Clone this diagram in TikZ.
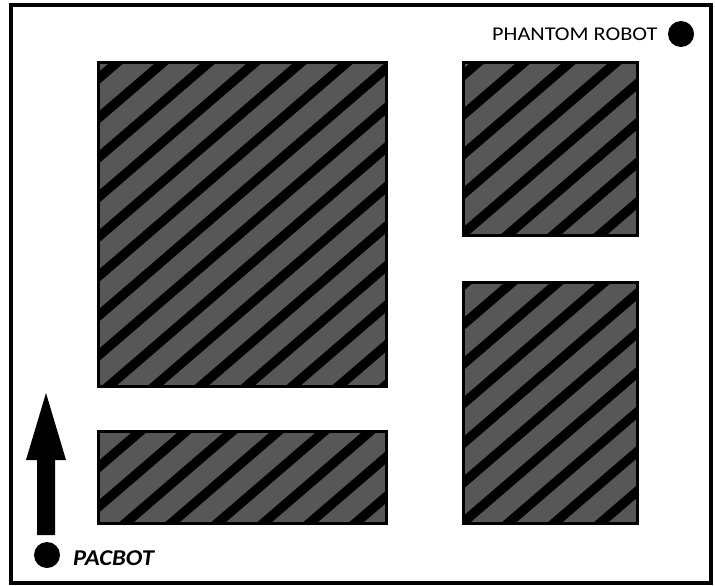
\documentclass[tikz,border=0pt]{standalone}
\usepackage{fontspec}
\usepackage{graphicx}
\usetikzlibrary{calc}
\setmainfont{Carlito}
\definecolor{obstgray}{RGB}{87,87,87}
\tikzset{
  obstacle/.style={fill=obstgray, inner sep=0pt, outer sep=0pt, rectangle},
  stripe/.style={black, line width=9.5pt},
  obstborder/.style={black, line width=3pt},
  robotdot/.style={circle, fill=black, inner sep=0pt, minimum size=26pt},
  lbl/.style={inner sep=0pt, text=black}
}
\newcommand{\hatchrect}[2]{%
  \begin{scope}
    \clip (#1.north west) rectangle (#1.south east);
    \foreach \k in {-1,...,16}{
      \draw[stripe] ($(#1.north west)+(#2+46*\k+25,-21.5)$) -- ++(-450,387);
    }
  \end{scope}
  \draw[obstborder] (#1.north west) rectangle (#1.south east);
}
\begin{document}
\begin{tikzpicture}[x=1pt,y=-1pt]
\useasboundingbox (0,0) rectangle (715,586);
\fill[white] (0,0) rectangle (715,586);
\draw[line width=4pt] (10.5,5.5) rectangle (711,583);
% obstacles
\node[obstacle, minimum width=288pt, minimum height=324pt] (big) at (242.5,224.5) {};
\node[obstacle, minimum width=174pt, minimum height=172.5pt] (tr) at (550.5,148.75) {};
\node[obstacle, minimum width=174pt, minimum height=241pt] (br) at (550.5,403) {};
\node[obstacle, minimum width=288pt, minimum height=92pt] (bl) at (242.5,477.5) {};
\hatchrect{big}{18.5}
\hatchrect{tr}{14.5}
\hatchrect{br}{2.5}
\hatchrect{bl}{41.5}
% phantom robot
\node[robotdot] (phantom) at (681,34) {};
\node[lbl, anchor=west] (phantomlbl) at (492,34.5) {\scalebox{1.14}[1]{\fontsize{19.5pt}{22pt}\selectfont PHANTOM ROBOT}};
% pacbot
\node[robotdot] (pacbot) at (47,555) {};
\node[lbl, anchor=west] (pacbotlbl) at (73,558) {\scalebox{1.09}[1]{\fontsize{22.6pt}{26pt}\selectfont\bfseries\itshape PACBOT}};
% arrow
\fill[black] (37,535) -- (55,535) -- (55,460) -- (66,460) -- (46,393) -- (26,460) -- (37,460) -- cycle;
\end{tikzpicture}
\end{document}
